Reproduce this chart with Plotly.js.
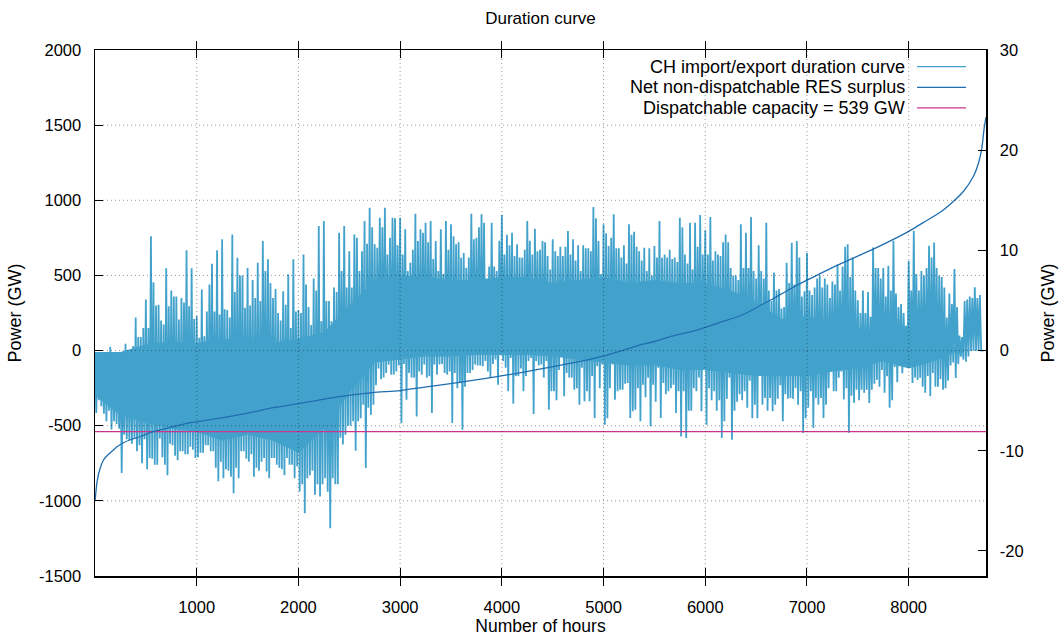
<!DOCTYPE html>
<html>
<head>
<meta charset="utf-8">
<script src="https://cdn.plot.ly/plotly-3.0.1.min.js"></script>
<style>html,body{margin:0;padding:0;background:#fff;}#chart{width:1061px;height:636px;}</style>
</head>
<body>
<div id="chart"></div>
<script>
// ---- Data ----
// CH import/export (GW), per 50-hour bin: main peak / main trough, then a second peak / trough
const binHours = 50;
const chHigh = [-10,-10,-10,25,-10,-15,45,0,220,90,340,760,300,200,547,400,360,350,667,547,
  230,407,260,578,667,740,270,773,618,500,550,470,584,729,607,350,250,395,507,607,
  270,640,290,480,829,862,330,420,784,829,660,773,530,862,951,707,884,951,751,880,
  884,807,584,911,807,851,862,729,807,862,840,707,618,551,911,750,907,480,851,530,
  902,770,784,707,618,862,640,660,729,630,740,630,630,795,740,700,700,680,955,729,
  840,695,907,680,700,840,790,660,684,680,695,862,640,670,620,884,640,851,850,902,
  800,889,660,630,773,550,500,840,784,889,480,530,851,330,400,280,584,718,729,360,
  651,370,480,420,440,460,573,560,708,620,334,400,390,686,550,550,565,730,290,250,
  598,796,400,500,697,719,500,420,380,543,100,330,360,422,370];
const chLow = [-415,-370,-470,-525,-490,-815,-590,-620,-670,-750,-790,-720,-760,-710,-830,-630,-730,-670,-690,-660,
  -710,-680,-630,-670,-870,-850,-800,-950,-850,-670,-740,-840,-800,-715,-850,-715,-780,-830,-760,-850,
  -938,-1082,-830,-960,-971,-850,-1182,-890,-580,-560,-500,-667,-450,-782,-427,-230,-190,-150,-160,-140,
  -482,-327,-180,-438,-160,-180,-416,-160,-90,-160,-482,-250,-527,-150,-130,-100,-105,-140,-90,-227,
  -70,-271,-353,-170,-270,-70,-422,-100,-180,-393,-270,-130,-304,-180,-260,-360,-338,-338,-449,-250,
  -493,-250,-327,-260,-220,-449,-393,-471,-310,-504,-340,-449,-290,-250,-415,-571,-582,-400,-270,-404,
  -493,-330,-400,-582,-320,-593,-340,-330,-380,-450,-450,-360,-400,-404,-320,-471,-320,-320,-360,-549,
  -380,-515,-360,-449,-250,-270,-180,-325,-546,-348,-330,-280,-348,-220,-240,-280,-380,-110,-105,-80,
  -105,-180,-180,-280,-304,-240,-190,-250,-100,-183,-40,-75,0,0,0];
const chHigh2 = [-10,-10,-10,-10,-10,-10,-10,30,90,150,
  150,455,305,173,295,360,207,320,295,210,
  85,95,440,260,240,275,220,390,500,285,
  300,350,330,530,450,410,200,305,150,260,
  250,440,170,400,195,330,195,390,530,420,
  420,750,660,710,820,684,820,640,884,700,
  640,530,670,729,784,720,610,530,510,670,
  760,720,650,620,740,820,850,560,560,730,
  640,700,630,620,670,730,810,670,720,540,
  660,690,690,640,600,530,680,660,880,510,
  780,750,680,620,580,770,690,600,530,500,
  620,618,620,610,590,820,580,540,690,640,
  640,600,640,720,720,500,470,550,550,530,
  700,480,400,520,410,290,450,440,620,395,
  400,420,500,480,350,440,400,690,490,400,
  250,250,225,550,480,360,400,380,310,120,
  400,510,530,550,620,550,490,220,310,290,
  90,340,350,350,0];
const chLow2 = [-330,-420,-400,-470,-520,-560,-600,-580,-630,-590,
  -715,-760,-585,-760,-620,-700,-670,-690,-640,-715,
  -680,-630,-670,-780,-740,-790,-840,-780,-670,-720,
  -690,-780,-740,-805,-715,-760,-790,-715,-760,-770,
  -890,-850,-800,-890,-890,-940,-850,-890,-625,-500,
  -470,-470,-360,-380,-360,-120,-180,-95,-160,-100,
  -90,-150,-180,-140,-93,-170,-93,-93,-150,-140,
  -150,-215,-240,-150,-93,-100,-70,-180,-60,-5,
  -115,-50,-170,-120,-170,-50,-70,-93,-70,-270,
  -330,-40,-150,-180,-250,-115,-270,-170,-105,-93,
  -450,-93,-270,-260,-215,-404,-250,-227,-180,-227,
  -115,-215,-270,-227,-270,-270,-400,-250,-180,-80,
  -250,-270,-330,-470,-180,-400,-290,-270,-200,-360,
  -150,-315,-315,-360,-230,-290,-315,-250,-270,-450,
  -270,-315,-315,-360,-140,-270,-140,-250,-300,-260,
  -260,-260,-260,-195,-130,-170,-330,-210,-150,-90,
  -215,-195,-240,-170,-150,-240,-260,-200,-80,-90,
  -60,-40,0,0,0];
// Dense core of the CH series (GW), per 250-hour segment
const coreHours = [0,250,500,750,1000,1250,1500,1750,2000,2250,2500,2750,3000,3250,3500,3750,4000,4250,
  4500,4750,5000,5250,5500,5750,6000,6250,6500,6750,7000,7250,7500,7750,8000,8250,8500,8760];
const coreTop = [-10,-10,40,60,50,80,60,50,80,120,300,470,500,490,470,470,490,490,
  450,470,490,450,470,450,450,400,320,210,230,170,150,120,170,80,10,0];
const coreBottom = [-300,-430,-480,-520,-540,-600,-560,-600,-680,-520,-280,-80,-60,-40,-40,-30,-30,-30,
  -40,-60,-80,-100,-100,-130,-130,-150,-170,-170,-170,-140,-120,-70,-120,-70,0,0];

// Net non-dispatchable RES surplus (right axis)
const resHours = [1,20,52,85,118,150,183,216,281,346,444,542,608,771,935,1261,1523,1752,1997,2405,2732,2993,
  3222,3549,3876,4203,4464,4693,4987,5183,5346,5510,5673,5935,6163,6327,6425,6523,6654,6817,6980,7144,7307,
  7493,7657,7820,8000,8147,8310,8441,8539,8637,8686,8719,8742,8760];
const resSurplus = [-15.0,-13.1,-11.7,-10.9,-10.5,-10.2,-9.9,-9.6,-9.2,-8.9,-8.6,-8.2,-8.0,-7.6,-7.2,-6.7,-6.2,-5.7,-5.3,-4.6,-4.2,-4.0,
  -3.67,-3.23,-2.73,-2.17,-1.67,-1.23,-0.57,0,0.53,0.93,1.43,2.1,2.87,3.4,3.85,4.4,5.1,6.05,6.93,7.75,8.55,
  9.4,10.15,10.95,11.9,12.8,13.8,14.9,15.9,17.4,18.7,20.2,22.2,23.3];

const dispatchableCapacity = 539;   // GW
const hourSpan = [0, 8760];

// Axis ticks
const xTicks = [1000,2000,3000,4000,5000,6000,7000,8000];
const yTicks = [-1500,-1000,-500,0,500,1000,1500,2000];
const yTickText = ['-1500','-1000','-500','0','500','1000','1500','2000'];
const y2Ticks = [-20,-10,0,10,20,30];
const y2TickText = ['-20','-10','0','10','20','30'];
const gridY = [-1000,-500,0,500,1000,1500];

const seriesNames = ['CH import/export duration curve','Net non-dispatchable RES surplus','Dispatchable capacity = 539 GW'];
const colors = {ch:'#42a2cc', res:'#1f6eb0', disp:'#cc348c'};

// ---- Build traces ----
const chX = [], chY = [];
for (let k = 0; k < chHigh.length; k++) {
  const x0 = k*binHours;
  chX.push(x0);                 chY.push(chHigh[k]);
  chX.push(x0 + binHours/4);    chY.push(chLow[k]);
  chX.push(x0 + binHours/2);    chY.push(chHigh2[k]);
  chX.push(x0 + 3*binHours/4);  chY.push(chLow2[k]);
}
const bandX = coreHours.concat(coreHours.slice().reverse());
const bandY = coreTop.concat(coreBottom.slice().reverse());

const traces = [
  {x: bandX, y: bandY, type:'scatter', mode:'lines', fill:'toself', fillcolor: colors.ch,
   line:{width:0, color: colors.ch}, hoverinfo:'skip', showlegend:false},
  {x: chX, y: chY, type:'scatter', mode:'lines', name: seriesNames[0],
   line:{color: colors.ch, width:1.8, simplify:false}, showlegend:false},
  {x: resHours, y: resSurplus, type:'scatter', mode:'lines', name: seriesNames[1], yaxis:'y2',
   line:{color: colors.res, width:1.3, shape:'spline', smoothing:0.6}, showlegend:false},
  {x: hourSpan, y: [-dispatchableCapacity, -dispatchableCapacity], type:'scatter', mode:'lines',
   name: seriesNames[2], line:{color: colors.disp, width:1.3}, showlegend:false}
];

// Grid drawn above the data as in the reference
const gridColor = 'rgba(0,0,0,0.4)';
const shapes = [];
xTicks.forEach(v => shapes.push({type:'line', xref:'x', yref:'paper', x0:v, x1:v, y0:0, y1:1,
  layer:'above', line:{color:gridColor, width:1, dash:'1px,3px'}}));
gridY.forEach(v => shapes.push({type:'line', xref:'paper', yref:'y', x0:0, x1:1, y0:v, y1:v,
  layer:'above', line:{color:gridColor, width:1, dash:'1px,3px'}}));

// Legend (gnuplot style: text right-aligned, sample to the right)
const legendY = [0.9683, 0.929, 0.890];
const legendColors = [colors.ch, colors.res, colors.disp];
const annotations = [];
const bigFont = {family:'"Liberation Sans", Arial, sans-serif', size:18, color:'#000'};
seriesNames.forEach((n, i) => {
  annotations.push({xref:'paper', yref:'paper', x:0.9113, y:legendY[i], xanchor:'right', yanchor:'middle',
    text:n, showarrow:false, font:bigFont});
  shapes.push({type:'line', xref:'paper', yref:'paper', x0:0.9226, x1:0.9776, y0:legendY[i], y1:legendY[i],
    layer:'above', line:{color:legendColors[i], width:1.2}});
});

const axisFont = {family:'"Liberation Sans", Arial, sans-serif', size:16.5, color:'#000'};
const xTitleFont = {family:'"Liberation Sans", Arial, sans-serif', size:17.5, color:'#000'};
const layout = {
  width:1061, height:636,
  margin:{l:95, r:75, t:50, b:60},
  paper_bgcolor:'#fff', plot_bgcolor:'#fff',
  font: axisFont,
  showlegend:false,
  title:{text:'Duration curve', x:0.5, xref:'paper', y:1-18/636, yref:'container', yanchor:'middle',
    font:{family:'"Liberation Sans", Arial, sans-serif', size:17, color:'#000'}},
  xaxis:{range:hourSpan, tickvals:xTicks, ticktext:xTicks.map(String), ticks:'inside', ticklen:8, tickwidth:1,
    tickcolor:'#000', showline:true, linecolor:'#000', linewidth:1.5, mirror:'allticks',
    showgrid:false, zeroline:false, ticklabelstandoff:16, tickfont:axisFont,
    title:{text:'Number of hours', font:xTitleFont, standoff:8}},
  yaxis:{range:[-1500,2000], tickvals:yTicks, ticktext:yTickText, ticks:'inside', ticklen:8, tickwidth:1,
    tickcolor:'#000', showline:true, linecolor:'#000', linewidth:1.5, mirror:false,
    showgrid:false, zeroline:false, ticklabelstandoff:9, tickfont:axisFont,
    title:{text:'Power (GW)', font:bigFont, standoff:12}},
  yaxis2:{range:[-22.5,30], overlaying:'y', side:'right', tickvals:y2Ticks, ticktext:y2TickText,
    ticks:'inside', ticklen:8, tickwidth:1, tickcolor:'#000', showline:true, linecolor:'#000', linewidth:1.5,
    showgrid:false, zeroline:false, ticklabelstandoff:9, tickfont:axisFont,
    title:{text:'Power (GW)', font:bigFont, standoff:18}},
  shapes: shapes,
  annotations: annotations
};
Plotly.newPlot('chart', traces, layout, {displayModeBar:false, staticPlot:true});
</script>
</body>
</html>
